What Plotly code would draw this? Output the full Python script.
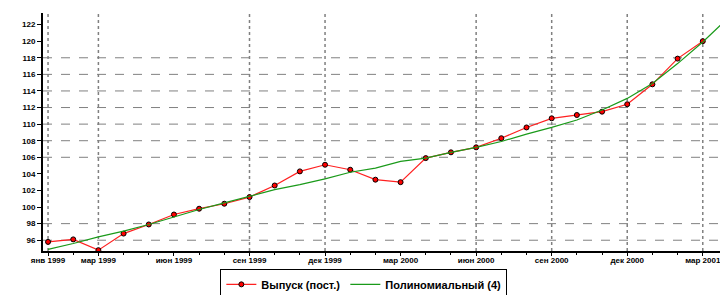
import plotly.graph_objects as go

months = ["янв 1999", "фев 1999", "мар 1999", "апр 1999", "май 1999", "июн 1999",
          "июл 1999", "авг 1999", "сен 1999", "окт 1999", "ноя 1999", "дек 1999",
          "янв 2000", "фев 2000", "мар 2000", "апр 2000", "май 2000", "июн 2000",
          "июл 2000", "авг 2000", "сен 2000", "окт 2000", "ноя 2000", "дек 2000",
          "янв 2001", "фев 2001", "мар 2001"]
output_const = [95.8, 96.1, 94.8, 96.8, 97.9, 99.1, 99.8, 100.4, 101.2, 102.6,
                104.3, 105.1, 104.5, 103.3, 103.0, 105.9, 106.6, 107.2, 108.3,
                109.6, 110.7, 111.1, 111.5, 112.4, 114.8, 117.9, 120.0]
trend_poly4 = [94.9, 95.6, 96.4, 97.1, 97.9, 98.8, 99.7, 100.5, 101.3, 102.1,
               102.7, 103.4, 104.2, 104.7, 105.5, 105.9, 106.6, 107.2, 107.9,
               108.8, 109.6, 110.5, 111.7, 113.1, 114.9, 117.3, 119.9, 122.8]
tick_months = ["янв 1999", "мар 1999", "июн 1999", "сен 1999", "дек 1999",
               "мар 2000", "июн 2000", "сен 2000", "дек 2000", "мар 2001"]
y_ticks = [96, 98, 100, 102, 104, 106, 108, 110, 112, 114, 116, 118, 120, 122]
y_grid = [96, 98, 106, 108, 110, 112, 114, 116, 118]
x_grid_months = ["янв 1999", "мар 1999", "сен 1999", "дек 1999",
                 "июн 2000", "сен 2000", "дек 2000", "мар 2001"]

x_main = list(range(len(months)))
x_trend = list(range(len(trend_poly4)))
tick_pos = [months.index(m) for m in tick_months]
xgrid_pos = [months.index(m) for m in x_grid_months]

fig = go.Figure()
fig.add_trace(go.Scatter(
    x=x_main, y=output_const, mode="lines+markers", name="Выпуск (пост.)",
    line=dict(color="#ff2020", width=1.2),
    marker=dict(symbol="circle", size=5, color="#ff0000",
                line=dict(color="#000000", width=1))))
fig.add_trace(go.Scatter(
    x=x_trend, y=trend_poly4, mode="lines", name="Полиномиальный (4)",
    line=dict(color="#1a9a1a", width=1.2)))

shapes = []
for yv in y_grid:
    shapes.append(dict(type="line", xref="paper", x0=0, x1=1, yref="y", y0=yv, y1=yv,
                       line=dict(color="#808080", width=1, dash="dash"), layer="below"))
for xv in xgrid_pos:
    shapes.append(dict(type="line", xref="x", x0=xv, x1=xv, yref="paper", y0=0, y1=1,
                       line=dict(color="#808080", width=1.5, dash="dot"), layer="below"))

fig.update_layout(
    width=728, height=295,
    margin=dict(l=35, r=3, t=5, b=47),
    paper_bgcolor="white", plot_bgcolor="white",
    font=dict(family="Liberation Sans, Arial", color="#000000"),
    shapes=shapes,
    showlegend=True,
    legend=dict(orientation="h", x=0.465, xanchor="center", y=-0.075, yanchor="top",
                bordercolor="#000000", borderwidth=1, bgcolor="white",
                font=dict(size=11, family="Liberation Sans, Arial", weight="bold"),
                itemwidth=30, tracegroupgap=0),
)
fig.update_xaxes(
    range=[-0.2, 27.2], tickmode="array", tickvals=tick_pos, ticktext=tick_months,
    showgrid=False, zeroline=False, showline=True, linecolor="#000000", linewidth=2,
    ticks="outside", ticklen=3, tickcolor="#000000", mirror=False,
    ticklabelstandoff=-3,
    tickfont=dict(size=8, weight="bold"), tickangle=0,
    minor=dict(tickvals=x_main, ticks="outside", ticklen=2, tickcolor="#000000", showgrid=False))
fig.update_yaxes(
    range=[94.7, 123.4], tickmode="array", tickvals=y_ticks,
    showgrid=False, zeroline=False, showline=True, linecolor="#000000", linewidth=2,
    ticks="outside", ticklen=4, tickcolor="#000000",
    tickfont=dict(size=8, weight="bold"))
# right border line
fig.add_shape(type="line", xref="paper", x0=1, x1=1, yref="paper", y0=0, y1=1.02,
              line=dict(color="#000000", width=2))

fig.write_html("out.html")
